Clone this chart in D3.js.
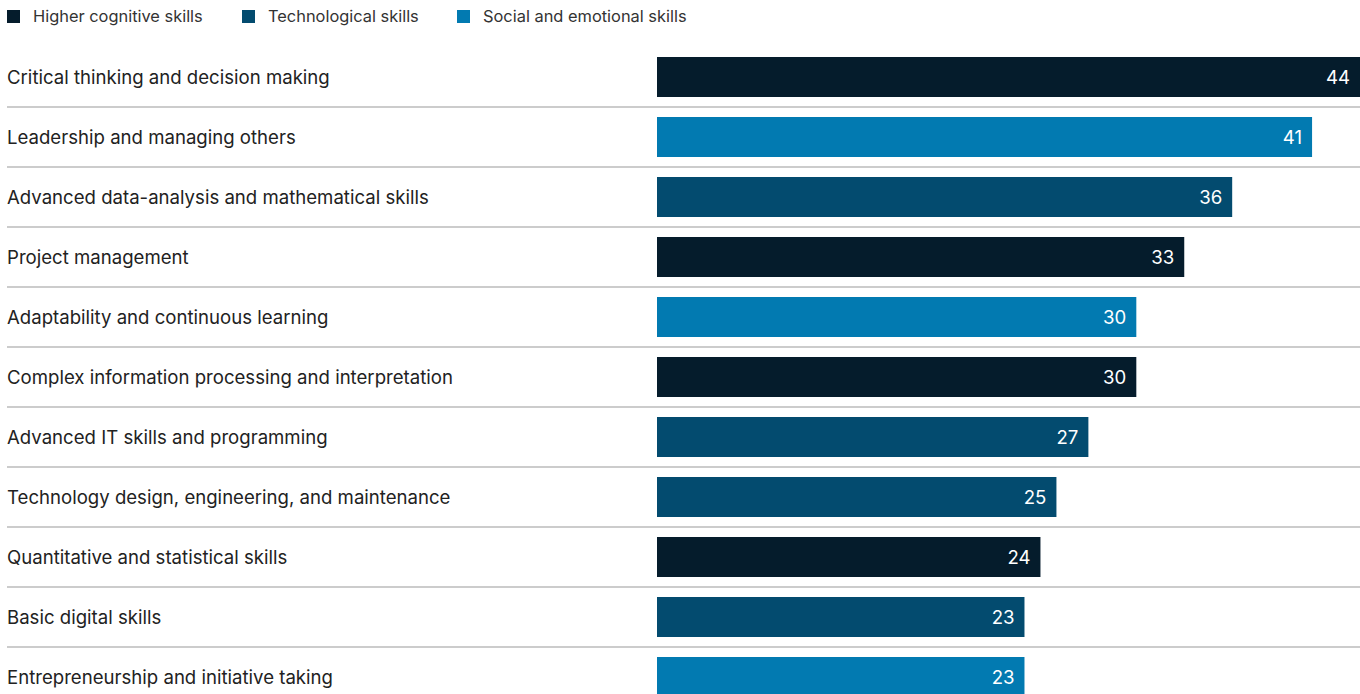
<!DOCTYPE html>
<html>
<head>
<meta charset="utf-8">
<script src="https://cdn.jsdelivr.net/npm/d3@7"></script>
<style>
  body { margin: 0; background: #fff; }
  svg { display: block; font-family: Inter, "Liberation Sans", Arial, sans-serif; }
</style>
</head>
<body>
<svg id="chart" width="1360" height="694"></svg>
<script>
// Skill names, top to bottom
const skills = [
    "Critical thinking and decision making",
    "Leadership and managing others",
    "Advanced data-analysis and mathematical skills",
    "Project management",
    "Adaptability and continuous learning",
    "Complex information processing and interpretation",
    "Advanced IT skills and programming",
    "Technology design, engineering, and maintenance",
    "Quantitative and statistical skills",
    "Basic digital skills",
    "Entrepreneurship and initiative taking"
];
const values = [44, 41, 36, 33, 30, 30, 27, 25, 24, 23, 23];
const groups = ["cog", "soc", "tech", "cog", "soc", "cog", "tech", "tech", "cog", "tech", "soc"];

const categories = ["cog", "tech", "soc"];
const category_names = ["Higher cognitive skills", "Technological skills", "Social and emotional skills"];
const category_colors = ["#051c2c", "#034b6f", "#027ab1"];

const data = skills.map((s, i) => ({ skill: s, value: values[i], group: groups[i] }));

const svg = d3.select("#chart");
const width = 1360;

const color = d3.scaleOrdinal().domain(categories).range(category_colors);

const x = d3.scaleLinear().domain([0, 44]).range([657, 1360]);

// Each row is 60px, bar 40px tall
const y = d3.scaleBand()
    .domain(skills)
    .range([47, 47 + 60 * skills.length])
    .paddingInner(1 / 3)
    .paddingOuter(1 / 6);

// Legend
const legend_x = [7, 242, 457];
const legend = svg.append("g").attr("class", "legend")
    .selectAll("g")
    .data(categories)
    .enter()
    .append("g")
    .attr("transform", (d, i) => `translate(${legend_x[i]},10)`);

legend.append("rect")
    .attr("width", 13).attr("height", 13)
    .attr("fill", d => color(d));

legend.append("text")
    .attr("x", 26).attr("y", 12)
    .style("font-size", "16.4px")
    .style("fill", "#333")
    .text((d, i) => category_names[i]);

// Row separators
svg.append("g").selectAll("line")
    .data(skills.slice(0, -1))
    .enter()
    .append("line")
    .attr("x1", 7).attr("x2", width)
    .attr("y1", d => y(d) + y.bandwidth() + 10)
    .attr("y2", d => y(d) + y.bandwidth() + 10)
    .attr("stroke", "#cccccc")
    .attr("stroke-width", 2);

// Row labels
svg.append("g").selectAll("text")
    .data(data)
    .enter()
    .append("text")
    .attr("x", 7)
    .attr("y", d => y(d.skill) + y.bandwidth() / 2)
    .attr("dy", "0.35em")
    .style("font-size", "18.6px")
    .style("fill", "#222")
    .text(d => d.skill);

// Bars
svg.append("g").selectAll("rect")
    .data(data)
    .enter()
    .append("rect")
    .attr("x", x(0))
    .attr("y", d => y(d.skill))
    .attr("width", d => x(d.value) - x(0))
    .attr("height", y.bandwidth())
    .attr("fill", d => color(d.group));

// Value labels
svg.append("g").selectAll("text")
    .data(data)
    .enter()
    .append("text")
    .attr("x", d => x(d.value) - 10)
    .attr("y", d => y(d.skill) + y.bandwidth() / 2)
    .attr("dy", "0.35em")
    .attr("text-anchor", "end")
    .style("font-size", "18.6px")
    .style("fill", "#fff")
    .text(d => d.value);
</script>
</body>
</html>
